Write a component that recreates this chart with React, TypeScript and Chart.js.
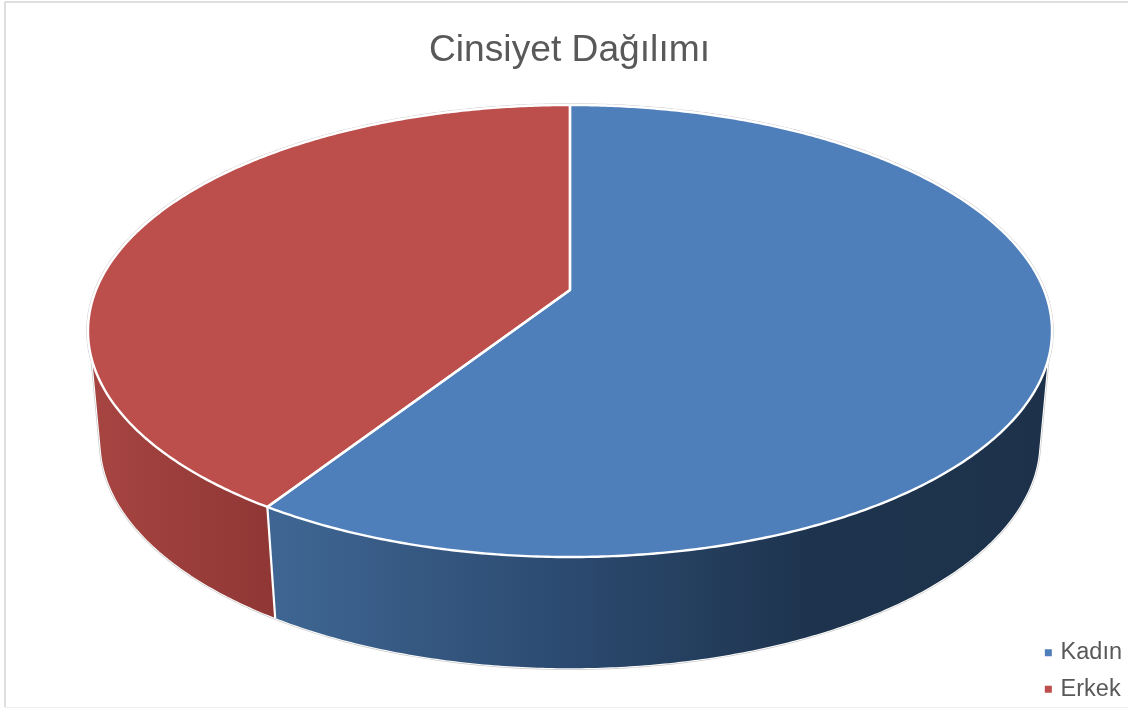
import React, { useEffect, useRef } from "react";
import { Chart, registerables } from "chart.js";

Chart.register(...registerables);

const categories = ["Kadın", "Erkek"];
const shares = [59.1, 40.9];
const sliceColors = ["#4F7FBA", "#BC4F4C"];
const chartTitle = "Cinsiyet Dağılımı";

const CX = 570;
const K = -0.1814;
const TOP = { a: 474, b: 218.6, y0: 290 };
const BOT = { a: 461.7, b: 219, y0: 400.7 };
const RIGHT_TOP = (18 * Math.PI) / 180;
const RIGHT_BOT = (13 * Math.PI) / 180;
const LEFT_TOP = Math.PI - RIGHT_TOP;
const LEFT_BOT = Math.PI - RIGHT_BOT;

type Disc = { a: number; b: number; y0: number };

function project(d: Disc, ang: number): [number, number] {
  const u = Math.cos(ang);
  const v = Math.sin(ang);
  const w = 1 + K * v;
  return [CX + (d.a * u) / w, d.y0 + (d.b * v) / w];
}

function arcPoints(d: Disc, from: number, to: number): [number, number][] {
  const n = Math.max(2, Math.ceil((Math.abs(to - from) / (2 * Math.PI)) * 720));
  const pts: [number, number][] = [];
  for (let i = 0; i <= n; i++) pts.push(project(d, from + ((to - from) * i) / n));
  return pts;
}

function trace(ctx: CanvasRenderingContext2D, pts: [number, number][], moveFirst = false) {
  pts.forEach((p, i) => {
    if (i === 0 && moveFirst) ctx.moveTo(p[0], p[1]);
    else ctx.lineTo(p[0], p[1]);
  });
}

const perspectivePie = {
  id: "perspectivePie",
  beforeDatasetsDraw(chart: any) {
    const ctx: CanvasRenderingContext2D = chart.ctx;
    const arcs = chart.getDatasetMeta(0).data;
    const norm = (x: number) => {
      let r = x;
      while (r < 0) r += 2 * Math.PI;
      while (r >= 2 * Math.PI) r -= 2 * Math.PI;
      return r;
    };
    const seam = norm(arcs[0].endAngle);

    ctx.save();
    ctx.lineJoin = "round";

    // Frame
    ctx.strokeStyle = "#DEDEDE";
    ctx.lineWidth = 2;
    ctx.beginPath();
    ctx.moveTo(5, 707);
    ctx.lineTo(5, 2);
    ctx.lineTo(1128, 2);
    ctx.stroke();
    ctx.strokeStyle = "#EDEDED";
    ctx.lineWidth = 1;
    ctx.beginPath();
    ctx.moveTo(5, 707.5);
    ctx.lineTo(1128, 707.5);
    ctx.stroke();

    const silhouette = () => {
      ctx.beginPath();
      trace(ctx, arcPoints(TOP, LEFT_TOP, RIGHT_TOP + 2 * Math.PI), true);
      trace(ctx, arcPoints(BOT, RIGHT_BOT, LEFT_BOT));
      ctx.closePath();
    };
    silhouette();
    ctx.strokeStyle = "#C9C9C9";
    ctx.lineWidth = 3.4;
    ctx.stroke();
    silhouette();
    ctx.strokeStyle = "#FFFFFF";
    ctx.lineWidth = 2;
    ctx.stroke();

    // Walls
    const blue = ctx.createLinearGradient(274, 0, 1039, 0);
    blue.addColorStop(0, "#3F6693");
    blue.addColorStop(0.37, "#2C4B71");
    blue.addColorStop(0.7, "#1E344E");
    blue.addColorStop(1, "#1D324A");
    ctx.beginPath();
    trace(ctx, arcPoints(TOP, RIGHT_TOP, seam), true);
    trace(ctx, arcPoints(BOT, seam, RIGHT_BOT));
    ctx.closePath();
    ctx.fillStyle = blue;
    ctx.fill();

    const red = ctx.createLinearGradient(100, 0, 274, 0);
    red.addColorStop(0, "#A64441");
    red.addColorStop(1, "#8F3735");
    ctx.beginPath();
    trace(ctx, arcPoints(TOP, seam, LEFT_TOP), true);
    trace(ctx, arcPoints(BOT, LEFT_BOT, seam));
    ctx.closePath();
    ctx.fillStyle = red;
    ctx.fill();

    const a = project(TOP, seam);
    const b = project(BOT, seam);
    ctx.beginPath();
    ctx.moveTo(a[0], a[1]);
    ctx.lineTo(b[0], b[1]);
    ctx.strokeStyle = "#FFFFFF";
    ctx.lineWidth = 2.2;
    ctx.stroke();

    // Faces
    arcs.forEach((arc: any, i: number) => {
      ctx.beginPath();
      ctx.moveTo(CX, TOP.y0);
      trace(ctx, arcPoints(TOP, arc.startAngle, arc.endAngle));
      ctx.closePath();
      ctx.fillStyle = arc.options.backgroundColor || sliceColors[i];
      ctx.fill();
    });
    arcs.forEach((arc: any) => {
      ctx.beginPath();
      ctx.moveTo(CX, TOP.y0);
      trace(ctx, arcPoints(TOP, arc.startAngle, arc.endAngle));
      ctx.closePath();
      ctx.strokeStyle = "#FFFFFF";
      ctx.lineWidth = 2.4;
      ctx.stroke();
    });
    ctx.restore();
    return false;
  },
};

export default function App() {
  const ref = useRef<HTMLCanvasElement>(null);
  useEffect(() => {
    const chart = new Chart(ref.current as HTMLCanvasElement, {
      type: "pie",
      data: {
        labels: categories,
        datasets: [{ data: shares, backgroundColor: sliceColors, borderWidth: 0 }],
      },
      plugins: [perspectivePie],
      options: {
        animation: false,
        responsive: false,
        layout: { padding: { top: 0, right: -4, bottom: -6, left: 7 } },
        plugins: {
          tooltip: { enabled: false },
          title: {
            display: true,
            text: chartTitle,
            color: "#595959",
            font: { family: "'Liberation Sans'", size: 37.2, weight: "normal" },
            padding: { top: 28, bottom: 10 },
          },
          legend: {
            position: "right",
            align: "end",
            labels: {
              color: "#595959",
              font: { family: "'Liberation Sans'", size: 23.5 },
              usePointStyle: true,
              pointStyle: "rect",
              boxWidth: 1,
              boxHeight: 7,
              padding: 13,
            },
          },
        },
      },
    } as any);
    return () => chart.destroy();
  }, []);
  return (
    <div style={{ position: "absolute", left: 0, top: 0, width: 1128, height: 708, background: "#fff" }}>
      <canvas ref={ref} width={1128} height={708} style={{ display: "block" }} />
    </div>
  );
}
